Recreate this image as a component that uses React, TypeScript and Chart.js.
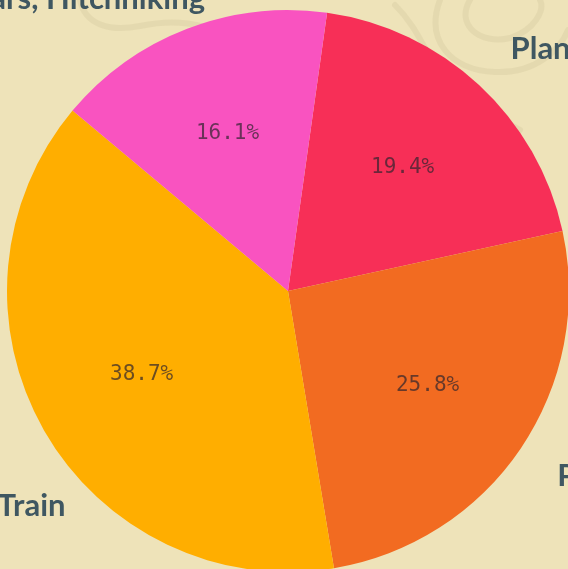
import React, { useEffect, useRef } from "react";
import { Chart, registerables } from "chart.js";

Chart.register(...registerables);

const categories = ["Plane", "Public Transport", "Train", "Cars, Hitchhiking"];
const values = [6, 8, 12, 5];
const sliceColors = ["#F72F57", "#F26B21", "#FFAE00", "#F953C0"];

const BG = "#EEE3B9";
const LABEL_COLOR = "#3F5761";
// per-label pixel nudges for the outer category labels
const labelNudge: Record<string, [number, number]> = {
  Plane: [-1, -1],
  "Public Transport": [-3, 1],
  Train: [63, 52],
  "Cars, Hitchhiking": [35, 15],
};

const roseBackground = {
  id: "roseBackground",
  beforeDraw(chart: any) {
    const ctx = chart.ctx;
    ctx.save();
    ctx.fillStyle = BG;
    ctx.fillRect(0, 0, chart.width, chart.height);
    ctx.strokeStyle = "rgba(180,170,125,0.16)";
    ctx.lineWidth = 6;
    ctx.lineCap = "round";
    // rose petals (top-right)
    ctx.beginPath();
    ctx.moveTo(470, 0);
    ctx.bezierCurveTo(455, 25, 480, 45, 510, 38);
    ctx.bezierCurveTo(535, 30, 545, 10, 540, 0);
    ctx.stroke();
    ctx.beginPath();
    ctx.moveTo(440, 0);
    ctx.bezierCurveTo(425, 40, 450, 70, 495, 72);
    ctx.bezierCurveTo(535, 74, 560, 50, 568, 30);
    ctx.stroke();
    ctx.beginPath();
    ctx.moveTo(450, 70);
    ctx.bezierCurveTo(470, 100, 490, 115, 520, 130);
    ctx.stroke();
    ctx.beginPath();
    ctx.moveTo(395, 5);
    ctx.bezierCurveTo(420, 30, 425, 55, 440, 70);
    ctx.stroke();
    // stem / leaf (top-left)
    ctx.beginPath();
    ctx.moveTo(80, 0);
    ctx.bezierCurveTo(85, 25, 110, 32, 140, 26);
    ctx.bezierCurveTo(170, 20, 190, 22, 215, 30);
    ctx.stroke();
    ctx.restore();
  },
};

const sliceLabels = {
  id: "sliceLabels",
  afterDatasetsDraw(chart: any) {
    const ctx = chart.ctx;
    const meta = chart.getDatasetMeta(0);
    const total = values.reduce((a, b) => a + b, 0);
    ctx.save();
    meta.data.forEach((arc: any, i: number) => {
      const { x, y, startAngle, endAngle, outerRadius } = arc.getProps(
        ["x", "y", "startAngle", "endAngle", "outerRadius"],
        true
      );
      const mid = (startAngle + endAngle) / 2;
      const c = Math.cos(mid);
      const s = Math.sin(mid);
      // percentage
      const pct = ((values[i] / total) * 100).toFixed(1) + "%";
      ctx.font = "21px 'DejaVu Sans Mono'";
      ctx.fillStyle = "rgba(45,35,45,0.7)";
      ctx.textAlign = "center";
      ctx.textBaseline = "middle";
      ctx.fillText(pct, x + c * outerRadius * 0.6, y + s * outerRadius * 0.6);
      // category label
      const name = categories[i];
      const nudge = labelNudge[name] || [0, 0];
      const d = outerRadius * 1.17;
      ctx.font = "bold 31px Lato";
      ctx.fillStyle = LABEL_COLOR;
      ctx.textAlign = c >= 0 ? "left" : "right";
      ctx.fillText(name, x + c * d + nudge[0], y + s * d + nudge[1]);
    });
    ctx.restore();
  },
};

export default function App() {
  const ref = useRef<HTMLCanvasElement | null>(null);

  useEffect(() => {
    document.body.style.margin = "0";
    const chart = new Chart(ref.current as HTMLCanvasElement, {
      type: "pie",
      data: {
        labels: categories,
        datasets: [
          {
            data: values,
            backgroundColor: sliceColors,
            borderWidth: 0,
            hoverOffset: 0,
            radius: 281,
          } as any,
        ],
      },
      options: {
        animation: false,
        responsive: false,
        rotation: 8,
        layout: { padding: { left: 8, right: 0, top: 13, bottom: 0 } },
        plugins: {
          legend: { display: false },
          tooltip: { enabled: false },
          title: { display: false },
        },
      },
      plugins: [roseBackground, sliceLabels],
    });
    return () => chart.destroy();
  }, []);

  return (
    <div style={{ position: "fixed", left: 0, top: 0, width: 568, height: 569, background: BG, overflow: "hidden" }}>
      <canvas ref={ref} width={568} height={569} style={{ display: "block", width: 568, height: 569 }} />
    </div>
  );
}
